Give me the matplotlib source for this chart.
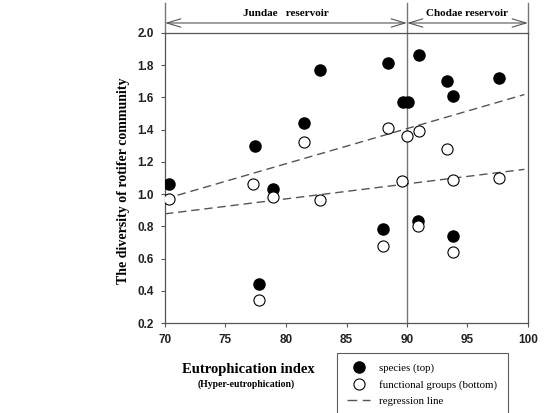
import matplotlib
matplotlib.use("Agg")
import matplotlib.pyplot as plt
from matplotlib.lines import Line2D
import numpy as np

# Data
species_x = [70.3, 77.4, 77.8, 78.9, 81.5, 82.8, 88.0, 88.4, 89.7, 90.1, 90.9, 91.0, 93.3, 93.8, 93.8, 97.6]
species_y = [1.06, 1.30, 0.44, 1.03, 1.44, 1.77, 0.78, 1.81, 1.57, 1.57, 0.83, 1.86, 1.70, 1.61, 0.74, 1.72]
func_x = [70.3, 77.3, 77.8, 78.9, 81.5, 82.8, 88.0, 88.4, 89.6, 90.0, 90.9, 91.0, 93.3, 93.8, 93.8, 97.6]
func_y = [0.97, 1.06, 0.34, 0.98, 1.32, 0.96, 0.68, 1.41, 1.08, 1.36, 0.80, 1.39, 1.28, 1.09, 0.64, 1.10]
reg_x = [70.0, 99.7]
reg_upper = [0.97, 1.617]
reg_lower = [0.877, 1.153]
xticks = [70, 75, 80, 85, 90, 95, 100]
yticks = [0.2, 0.4, 0.6, 0.8, 1.0, 1.2, 1.4, 1.6, 1.8, 2.0]
divider_x = 90
regions = [("Jundae   reservoir", 70, 90), ("Chodae reservoir", 90, 100)]

W, H = 544, 413
fig = plt.figure(figsize=(W / 100, H / 100), dpi=100)
ax = fig.add_axes([165 / W, 1 - 323 / H, (528 - 165) / W, (323 - 32.8) / H])

gray = "#555555"
serif = "Liberation Serif"
sans = "Liberation Sans"

ax.plot(reg_x, reg_upper, ls=(0, (6, 3.5)), color=gray, lw=1.0, zorder=2)
ax.plot(reg_x, reg_lower, ls=(0, (6, 3.5)), color=gray, lw=1.0, zorder=2)
ax.axvline(divider_x, color="#777777", lw=1.0, zorder=1)

ax.scatter(species_x, species_y, s=64, color="black", zorder=3)
ax.scatter(func_x, func_y, s=64, facecolor="white", edgecolor="black", linewidths=0.8, zorder=4)

ax.set_xlim(70, 100)
ax.set_ylim(0.2, 2.0)
ax.set_xticks(xticks)
ax.set_xticklabels([str(t) for t in xticks])
ax.set_yticks(yticks)
ax.set_yticklabels([f"{t:.1f}" for t in yticks])
ax.tick_params(axis="both", direction="out", length=3, width=0.8, color=gray, pad=5,
               labelsize=8.5)
for lab in ax.get_xticklabels() + ax.get_yticklabels():
    lab.set_fontfamily(sans)
    lab.set_fontweight("bold")
    lab.set_color("#222222")
for sp in ax.spines.values():
    sp.set_color(gray)
    sp.set_linewidth(0.9)

# Region annotations above the plot
top_line = 1.1027
arrow_y = 1.0338
for xv in [70, divider_x, 100]:
    ax.plot([xv, xv], [1.0, top_line], transform=ax.get_xaxis_transform(),
            color="#777777", lw=1.0, clip_on=False)
for label, x0, x1 in regions:
    ax.annotate("", xy=(x0, arrow_y), xytext=(x1, arrow_y),
                xycoords=ax.get_xaxis_transform(), textcoords=ax.get_xaxis_transform(),
                arrowprops=dict(arrowstyle="<->,head_length=1.0,head_width=0.3",
                                color=gray, lw=0.8, shrinkA=0, shrinkB=0))
    ax.text((x0 + x1) / 2, 1.066, label, transform=ax.get_xaxis_transform(),
            ha="center", va="center", fontsize=8, fontweight="bold", family=serif)

fig.text(123 / W, 1 - 181 / H, "The diversity of rotifer community", rotation=90,
         ha="center", va="center", fontsize=10, fontweight="bold", family=serif)
fig.text(248 / W, 1 - 370 / H, "Eutrophication index", ha="center", va="center",
         fontsize=10.5, fontweight="bold", family=serif)
fig.text(246 / W, 1 - 384 / H, "(Hyper-eutrophication)", ha="center", va="center",
         fontsize=7, fontweight="bold", family=serif)

handles = [
    Line2D([], [], ls="none", marker="o", markersize=8, color="black"),
    Line2D([], [], ls="none", marker="o", markersize=8, markerfacecolor="white",
           markeredgecolor="black", markeredgewidth=0.8),
    Line2D([], [], ls=(0, (7, 4)), color=gray, lw=1.0),
]
leg = fig.legend(handles, ["species (top)", "functional groups (bottom)", "regression line"],
                 loc="upper left", bbox_to_anchor=(337 / W, 1 - 353 / H),
                 prop={"family": serif, "size": 7.8}, frameon=True, fancybox=False,
                 edgecolor="#333333", handlelength=2.1, handletextpad=0.85,
                 labelspacing=0.6, borderpad=0.95, borderaxespad=0)
leg.get_frame().set_linewidth(0.8)

fig.savefig("out.png", dpi=100)
